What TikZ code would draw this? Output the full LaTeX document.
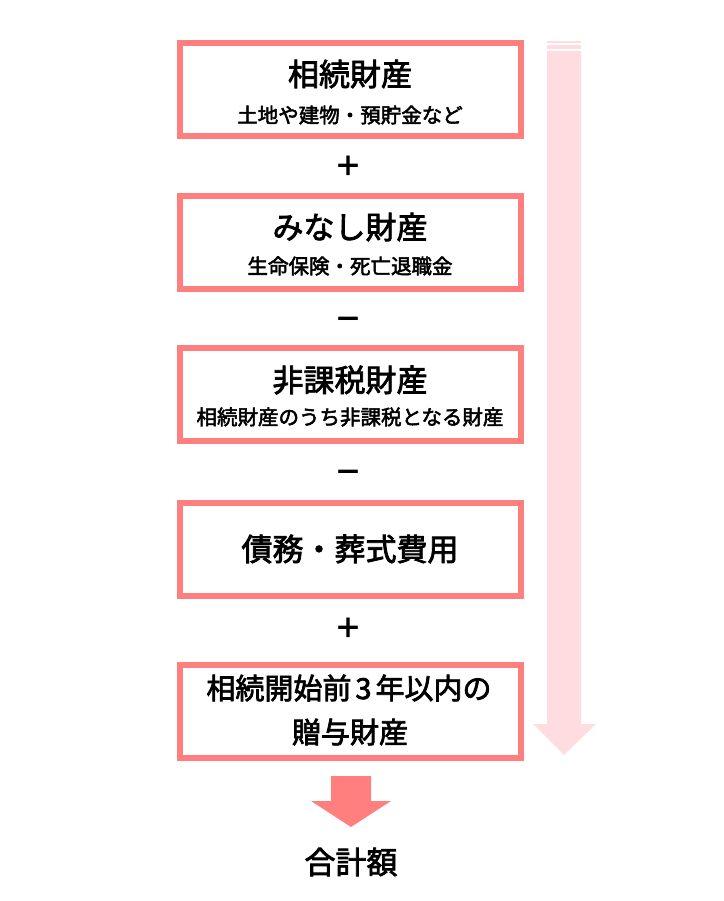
\documentclass[tikz,border=0pt]{standalone}
\usepackage{fontspec}
\newfontfamily\cjk{Noto Sans CJK JP}[FakeBold=2.5]
\newfontfamily\cjkb{Noto Sans CJK JP}
\definecolor{boxred}{HTML}{FF7F7F}
\definecolor{lightpink}{HTML}{FFDCE0}
\tikzset{
  box/.style={draw=boxred, line width=6pt, fill=white, minimum width=341pt, minimum height=93pt, inner sep=0pt},
  title/.style={font=\cjk\fontsize{31}{36}\selectfont, inner sep=0pt, anchor=center},
  sub/.style={font=\cjk\fontsize{20.5}{24}\selectfont, inner sep=0pt, anchor=center},
  op/.style={font=\cjkb\bfseries\fontsize{28}{34}\selectfont, inner sep=0pt, anchor=center},
}
\begin{document}
\begin{tikzpicture}[x=1pt,y=-1pt]
\useasboundingbox (0,0) rectangle (723,901);
% right light arrow
\fill[lightpink] (547,41) rectangle (581,43);
\fill[lightpink] (547,45) rectangle (581,49);
\fill[lightpink] (547,51) -- (581,51) -- (581,724) -- (596,724) -- (564,755) -- (533,724) -- (547,724) -- cycle;
% boxes
\node[box] (b1) at (350.5,89.5) {};
\node[box] (b2) at (350.5,242.5) {};
\node[box] (b3) at (350.5,394.5) {};
\node[box] (b4) at (350.5,549) {};
\node[box] (b5) at (350.5,711) {};
% texts
\node[title] (t1) at (350,74) {相続財産};
\node[sub] (s1) at (350,115) {土地や建物・預貯金など};
\node[title] (t2) at (350,227) {みなし財産};
\node[sub] (s2) at (350,266) {生命保険・死亡退職金};
\node[title] (t3) at (350,380) {非課税財産};
\node[sub] (s3) at (350,417) {相続財産のうち非課税となる財産};
\node[title] (t4) at (350,549) {債務・葬式費用};
\node[title, font=\cjk\fontsize{29}{34}\selectfont] (t5a) at (349,688) {相続開始前\hspace{4pt}3\hspace{4pt}年以内の};
\node[title, font=\cjk\fontsize{29}{34}\selectfont] (t5b) at (350,732) {贈与財産};
% operators
\node[op] (o1) at (348,166) {＋};
\node[op] (o2) at (348,323) {－};
\node[op] (o3) at (348,476) {－};
\node[op] (o4) at (348,628) {＋};
% bottom arrow
\fill[boxred] (331,776) -- (371,776) -- (371,801) -- (391,801) -- (351,827) -- (311,801) -- (331,801) -- cycle;
\node[title] (total) at (351,862) {合計額};
\end{tikzpicture}
\end{document}
